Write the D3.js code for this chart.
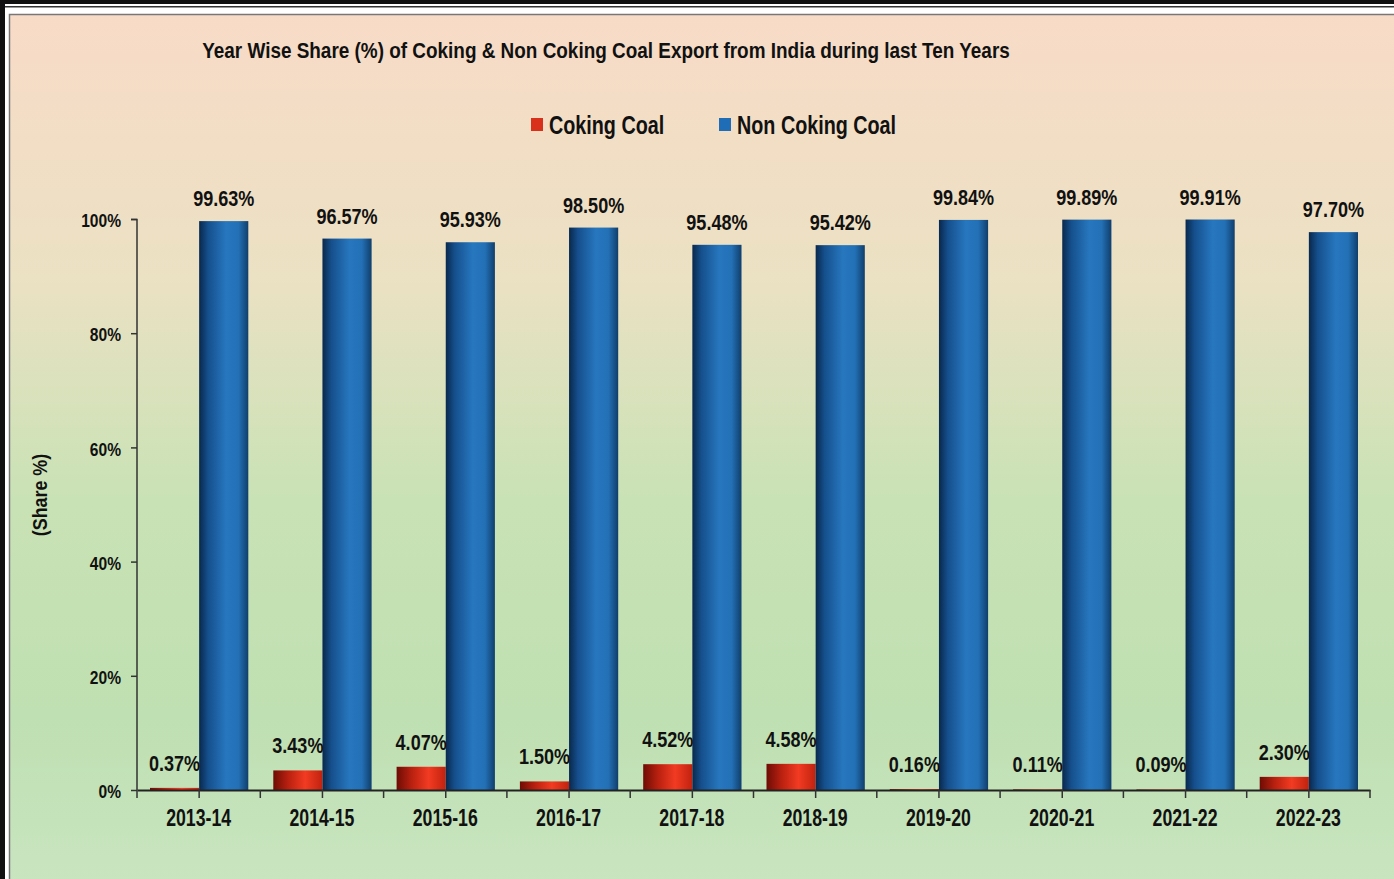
<!DOCTYPE html>
<html><head><meta charset="utf-8">
<script src="https://cdn.jsdelivr.net/npm/d3@7/dist/d3.min.js"></script>
<style>
html,body{margin:0;padding:0;background:#fff;}
svg{display:block;}
text{font-family:"Liberation Sans Narrow","Arial Narrow","Liberation Sans",Arial,sans-serif;font-weight:bold;fill:#111;}
</style></head>
<body>
<script>
const categories = ["2013-14","2014-15","2015-16","2016-17","2017-18","2018-19","2019-20","2020-21","2021-22","2022-23"];
const cokingCoal = [0.37,3.43,4.07,1.50,4.52,4.58,0.16,0.11,0.09,2.30];
const nonCokingCoal = [99.63,96.57,95.93,98.50,95.48,95.42,99.84,99.89,99.91,97.70];
const seriesNames = ["Coking Coal","Non Coking Coal"];
const yTicks = [0,20,40,60,80,100];
const titleText = "Year Wise Share (%) of Coking & Non Coking Coal Export from India during last Ten Years";
const yAxisTitle = "(Share %)";

const W = 1394, H = 879;
const svg = d3.select("body").append("svg").attr("width", W).attr("height", H);
const defs = svg.append("defs");

// condense text horizontally (narrow font look)
function condense(sel, factor) {
  sel.each(function() {
    const L = this.getComputedTextLength();
    d3.select(this).attr("textLength", L * factor).attr("lengthAdjust", "spacingAndGlyphs");
  });
}

const bg = defs.append("linearGradient").attr("id","bg").attr("x1",0).attr("y1",0).attr("x2",0).attr("y2",1);
[["0%","#f8dbc7"],["30%","#ebe1c3"],["55%","#c9e2b5"],["80%","#bfe0b2"],["100%","#c9e5c1"]].forEach(s=>bg.append("stop").attr("offset",s[0]).attr("stop-color",s[1]));

const gBlue = defs.append("linearGradient").attr("id","gBlue").attr("x1",0).attr("y1",0).attr("x2",1).attr("y2",0);
[["0%","#09284d"],["18%","#154f8c"],["55%","#2777bf"],["80%","#2370b6"],["100%","#103e6c"]].forEach(s=>gBlue.append("stop").attr("offset",s[0]).attr("stop-color",s[1]));
const gRed = defs.append("linearGradient").attr("id","gRed").attr("x1",0).attr("y1",0).attr("x2",1).attr("y2",0);
[["0%","#6e0c05"],["30%","#b8200f"],["65%","#f23b22"],["100%","#c0220f"]].forEach(s=>gRed.append("stop").attr("offset",s[0]).attr("stop-color",s[1]));

// frame
svg.append("rect").attr("x",0).attr("y",0).attr("width",W).attr("height",4).attr("fill","#111");
svg.append("rect").attr("x",0).attr("y",6).attr("width",W).attr("height",1.5).attr("fill","#333");
svg.append("rect").attr("x",0).attr("y",0).attr("width",5).attr("height",H).attr("fill","#111");
svg.append("rect").attr("x",9.5).attr("y",14.5).attr("width",W).attr("height",H).attr("fill","url(#bg)").attr("stroke","#777").attr("stroke-width",1.5);

// title
svg.append("text").attr("x",606).attr("y",58).attr("text-anchor","middle").attr("font-size",22).text(titleText)
  .call(condense, 0.86);

// legend
const legendColors = ["#d9301c","#1f6db6"];
const legendX = [531,719];
seriesNames.forEach((n,i)=>{
  svg.append("rect").attr("x",legendX[i]).attr("y",118).attr("width",12).attr("height",13).attr("fill",legendColors[i]);
  svg.append("text").attr("x",legendX[i]+18).attr("y",134).attr("font-size",25).text(n).call(condense, 0.79);
});

// scales
const x0 = d3.scaleBand().domain(categories).range([137,1370]).paddingInner(0).paddingOuter(0);
const x1 = d3.scaleBand().domain(seriesNames).range([13, x0.bandwidth()-12]);
const y = d3.scaleLinear().domain([0,100]).range([790,219]);

const data = categories.map((c,i)=>({cat:c, vals:[cokingCoal[i], nonCokingCoal[i]]}));

const groups = svg.append("g").selectAll("g").data(data).join("g")
  .attr("transform", d=>`translate(${x0(d.cat)},0)`);
groups.selectAll("rect").data(d=>d.vals.map((v,i)=>({v, s:seriesNames[i], i}))).join("rect")
  .attr("x", d=>x1(d.s)).attr("width", x1.bandwidth())
  .attr("y", d=>y(d.v)).attr("height", d=>Math.max(0.5, y(0)-y(d.v)))
  .attr("fill", d=> d.i===0 ? "url(#gRed)" : "url(#gBlue)");
groups.selectAll("text.val").data(d=>d.vals.map((v,i)=>({v, s:seriesNames[i], i}))).join("text")
  .attr("class","val")
  .attr("x", d=>x1(d.s)+x1.bandwidth()/2)
  .attr("y", d=> d.i===0 ? y(d.v)-17 : y(d.v)-15)
  .attr("text-anchor","middle").attr("font-size",22)
  .text(d=>d.v.toFixed(2)+"%")
  .call(condense, 0.82);

// y axis
const yAxis = svg.append("g").attr("transform","translate(137,0)")
  .call(d3.axisLeft(y).tickValues(yTicks).tickFormat(d=>d+"%").tickSize(6).tickPadding(10));
yAxis.select(".domain").attr("stroke","#333").attr("stroke-width",1.5).attr("d","M-6,219.5H0V790");
yAxis.selectAll(".tick line").attr("stroke","#333").attr("stroke-width",1.5);
yAxis.selectAll(".tick text").attr("font-size",19).attr("fill","#111").attr("dy","0.4em")
  .style("font-family",'"Liberation Sans Narrow","Arial Narrow","Liberation Sans",sans-serif').style("font-weight","bold")
  .call(condense, 0.82);

// x axis
const xAxis = svg.append("g").attr("transform","translate(0,790)")
  .call(d3.axisBottom(x0).tickSize(0).tickPadding(20));
xAxis.select(".domain").attr("stroke","#222").attr("stroke-width",2);
xAxis.selectAll(".tick text").attr("font-size",23).attr("fill","#111")
  .style("font-family",'"Liberation Sans Narrow","Arial Narrow","Liberation Sans",sans-serif').style("font-weight","bold")
  .call(condense, 0.77);
const bounds = categories.map(c=>x0(c)).concat([x0.range()[1]]);
svg.append("g").selectAll("line").data(bounds).join("line")
  .attr("x1",d=>d).attr("x2",d=>d).attr("y1",790).attr("y2",798)
  .attr("stroke","#333").attr("stroke-width",1.5);
svg.append("g").selectAll("line").data(categories).join("line")
  .attr("x1",d=>x0(d)+x1(seriesNames[1])).attr("x2",d=>x0(d)+x1(seriesNames[1])).attr("y1",790).attr("y2",798)
  .attr("stroke","#333").attr("stroke-width",1.5);

// y title
svg.append("text").attr("transform","translate(47,495) rotate(-90)").attr("text-anchor","middle").attr("font-size",21).text(yAxisTitle)
  .call(condense, 0.85);
</script>
</body></html>
